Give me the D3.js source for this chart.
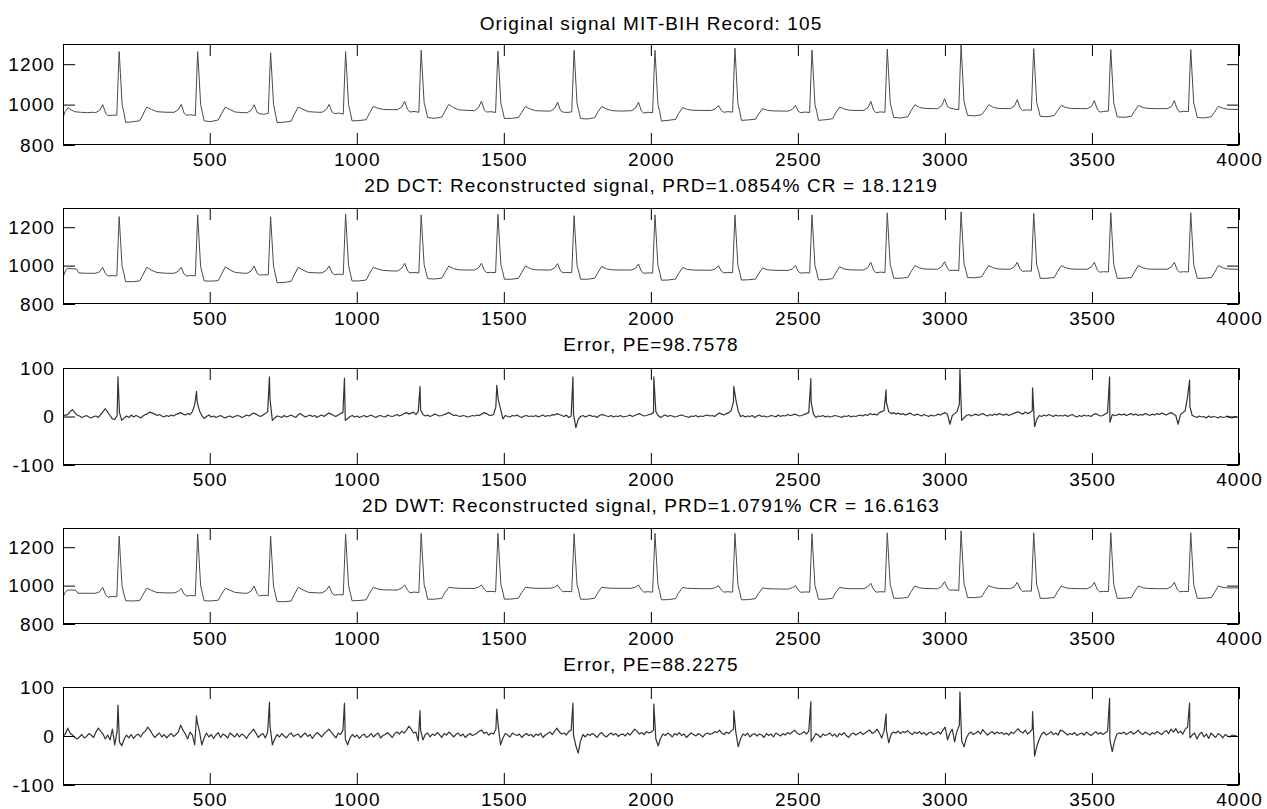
<!DOCTYPE html>
<html>
<head>
<meta charset="utf-8">
<script src="https://cdn.jsdelivr.net/npm/d3@7"></script>
<style>
  html, body { margin: 0; background: #fff; }
  svg { display: block; font-family: "Liberation Sans", Arial, sans-serif; }
</style>
</head>
<body>
<svg id="chart" width="1267" height="809"></svg>
<script>
// sample axis
const sampleRange = [1, 4000];
const xTicks = [500, 1000, 1500, 2000, 2500, 3000, 3500, 4000];
const ecgRange = [800, 1300];
const ecgTicks = [800, 1000, 1200];
const errRange = [-100, 100];
const errTicks = [-100, 0, 100];

const titles = [
  "Original signal MIT-BIH Record: 105",
  "2D DCT: Reconstructed signal, PRD=1.0854% CR = 18.1219",
  "Error, PE=98.7578",
  "2D DWT: Reconstructed signal, PRD=1.0791% CR = 16.6163",
  "Error, PE=88.2275",
];

// R-peak sample positions
const rPeaks = [192, 459, 707, 962, 1219, 1480, 1739, 2014, 2286, 2548, 2804, 3055, 3302, 3564, 3836];
// landmark offsets (samples from R) at which each beat was read
const beatOffsets = [-80, -66, -56, -46, -38, -24, -8, -3, 0, 4, 10, 16, 22, 45, 70, 80, 94, 110, 128, 160];

// original signal
const originalLeadIn = [[1, 935], [8, 965], [18, 985], [28, 975], [40, 965], [60, 962], [85, 960], [100, 962]];
const originalBeats = [
  [960, 972, 1000, 958, 945, 948, 947, 1150, 1262, 1160, 1000, 962, 912, 915, 920, 948, 988, 976, 965, 962],
  [962, 974, 1001, 957, 947, 950, 946, 1150, 1262, 1160, 1000, 960, 919, 916, 924, 952, 988, 975, 963, 960],
  [960, 972, 999, 962, 955, 952, 956, 1150, 1257, 1155, 1000, 958, 911, 913, 918, 950, 988, 977, 965, 962],
  [962, 975, 1001, 963, 955, 958, 953, 1150, 1262, 1160, 1000, 962, 919, 921, 925, 955, 991, 982, 976, 975],
  [975, 988, 1016, 975, 963, 966, 962, 1160, 1269, 1165, 1010, 975, 936, 932, 938, 965, 1001, 985, 974, 971],
  [970, 985, 1017, 972, 963, 965, 961, 1160, 1265, 1160, 1005, 970, 931, 932, 936, 960, 991, 978, 970, 968],
  [968, 982, 1012, 970, 963, 961, 964, 1160, 1269, 1165, 1005, 968, 931, 929, 935, 962, 991, 978, 970, 968],
  [970, 983, 1012, 968, 958, 962, 960, 1160, 1269, 1165, 1000, 965, 919, 922, 927, 955, 985, 976, 972, 971],
  [971, 980, 996, 970, 962, 965, 963, 1170, 1279, 1170, 1005, 968, 922, 924, 928, 952, 980, 972, 969, 968],
  [968, 978, 996, 966, 960, 963, 961, 1160, 1270, 1165, 1000, 966, 922, 925, 930, 958, 988, 978, 972, 971],
  [971, 985, 1016, 970, 960, 964, 962, 1165, 1274, 1170, 1010, 972, 936, 934, 940, 968, 999, 986, 981, 980],
  [980, 995, 1029, 990, 983, 978, 975, 1180, 1296, 1180, 1015, 980, 947, 944, 950, 970, 999, 986, 981, 980],
  [980, 992, 1024, 982, 971, 974, 972, 1170, 1277, 1170, 1010, 978, 942, 940, 946, 968, 996, 985, 981, 980],
  [980, 990, 1020, 978, 963, 966, 968, 1165, 1272, 1165, 1008, 975, 939, 937, 942, 966, 996, 985, 981, 980],
  [980, 990, 1020, 978, 963, 967, 965, 1165, 1272, 1165, 1008, 975, 936, 934, 940, 962, 991, 982, 977, 976],
];
const originalTail = [[4000, 975]];

// 2D DCT reconstruction
const dctLeadIn = [[1, 939], [10, 975], [16, 986], [30, 984], [47, 982], [55, 962], [80, 960], [100, 960]];
const dctBeats = [
  [960, 968, 991, 956, 946, 948, 946, 1140, 1255, 1150, 995, 960, 916, 916, 920, 950, 991, 976, 964, 960],
  [960, 970, 991, 955, 946, 948, 947, 1145, 1264, 1155, 995, 958, 920, 919, 922, 952, 994, 977, 964, 960],
  [960, 972, 998, 960, 951, 952, 952, 1140, 1255, 1150, 995, 956, 911, 912, 918, 950, 991, 977, 964, 962],
  [962, 975, 998, 962, 953, 955, 954, 1150, 1269, 1160, 1000, 960, 920, 920, 925, 955, 991, 982, 975, 972],
  [972, 986, 1012, 972, 962, 964, 962, 1150, 1264, 1160, 1005, 970, 932, 930, 935, 962, 998, 984, 978, 977],
  [977, 988, 1012, 974, 963, 965, 963, 1155, 1267, 1160, 1005, 970, 929, 929, 934, 962, 998, 984, 978, 977],
  [977, 988, 1010, 972, 963, 964, 963, 1150, 1260, 1155, 1000, 968, 929, 929, 934, 962, 996, 983, 978, 977],
  [977, 986, 1008, 970, 960, 962, 961, 1150, 1264, 1160, 1000, 966, 924, 925, 930, 958, 990, 980, 977, 976],
  [976, 984, 1000, 970, 962, 964, 963, 1150, 1264, 1160, 1000, 966, 925, 926, 930, 956, 988, 978, 976, 975],
  [975, 984, 1000, 968, 961, 963, 962, 1150, 1264, 1160, 1000, 966, 926, 927, 932, 960, 994, 982, 978, 977],
  [977, 990, 1017, 974, 963, 966, 964, 1160, 1275, 1165, 1005, 972, 934, 934, 938, 966, 1000, 988, 982, 981],
  [981, 994, 1020, 984, 975, 976, 974, 1165, 1280, 1170, 1010, 976, 938, 936, 942, 968, 1000, 988, 982, 981],
  [981, 993, 1017, 980, 970, 972, 971, 1160, 1272, 1165, 1005, 974, 934, 934, 938, 966, 1000, 988, 982, 981],
  [981, 993, 1017, 978, 966, 968, 967, 1160, 1275, 1165, 1005, 972, 934, 934, 938, 966, 1000, 988, 982, 981],
  [981, 993, 1017, 978, 966, 968, 967, 1160, 1275, 1165, 1005, 972, 934, 934, 938, 962, 1000, 988, 982, 981],
];
const dctTail = [[4000, 981]];

// 2D DWT reconstruction
const dwtLeadIn = [[1, 939], [8, 965], [18, 977], [35, 977], [45, 975], [52, 960], [80, 960], [100, 960]];
const dwtBeats = [
  [960, 968, 991, 952, 939, 944, 942, 1140, 1258, 1150, 995, 958, 921, 920, 922, 950, 986, 975, 964, 962],
  [962, 970, 986, 955, 946, 948, 947, 1150, 1269, 1160, 1000, 958, 921, 920, 924, 952, 986, 976, 964, 960],
  [960, 972, 998, 958, 946, 950, 948, 1140, 1258, 1150, 995, 956, 916, 916, 920, 952, 991, 978, 965, 962],
  [962, 975, 998, 960, 950, 953, 952, 1150, 1269, 1160, 1000, 960, 921, 922, 926, 956, 991, 982, 978, 977],
  [977, 988, 1003, 975, 963, 966, 964, 1155, 1272, 1165, 1005, 972, 929, 929, 934, 962, 991, 988, 986, 985],
  [985, 992, 1003, 980, 968, 970, 968, 1155, 1272, 1165, 1005, 972, 929, 930, 935, 962, 991, 988, 986, 986],
  [986, 992, 1003, 980, 968, 970, 968, 1155, 1270, 1160, 1005, 970, 929, 929, 934, 962, 991, 988, 986, 986],
  [986, 992, 1003, 978, 966, 968, 966, 1155, 1272, 1165, 1005, 968, 926, 927, 932, 960, 991, 986, 985, 984],
  [984, 990, 1000, 976, 966, 968, 966, 1155, 1272, 1165, 1005, 968, 926, 927, 932, 958, 988, 984, 983, 982],
  [982, 990, 1000, 975, 965, 967, 966, 1155, 1270, 1160, 1000, 968, 929, 929, 934, 962, 991, 986, 984, 984],
  [984, 994, 1012, 978, 966, 968, 967, 1160, 1275, 1165, 1005, 972, 934, 934, 938, 966, 998, 988, 985, 984],
  [984, 996, 1020, 986, 976, 977, 975, 1165, 1285, 1170, 1010, 976, 938, 937, 942, 968, 1000, 990, 985, 984],
  [984, 994, 1017, 982, 970, 972, 971, 1160, 1275, 1165, 1005, 974, 934, 934, 938, 966, 998, 988, 985, 984],
  [984, 994, 1017, 980, 968, 970, 969, 1160, 1275, 1165, 1005, 972, 934, 934, 938, 966, 998, 988, 985, 984],
  [984, 994, 1017, 980, 968, 970, 969, 1160, 1275, 1165, 1005, 972, 934, 934, 938, 962, 998, 990, 988, 988],
];
const dwtTail = [[4000, 990]];

// error traces: one reading every 8 samples (sample = 1 + 8 * i) ...
const errStep = 8;
const dctError = [
  2, 3, 4, 10, 14, 8, 3, 1, -2, 0, 2, -1, -3, 0, 1, -2, 4, 10, 16, 9, 2, -5, -6, 2, 8,
  -8, -3, 1, -2, 3, -1, 2, 0, -3, 1, 4, 6, 9, 7, 5, 2, 4, 1, -1, 2, 0, 3, 1, 4, 6,
  8, 5, 3, 6, 4, 10, 25, 30, 12, 2, -4, 0, 3, -1, 1, -2, 0, 2, -1, -3, 0, 1, -2, 0, 2,
  1, -2, 0, 3, 1, 4, 7, 5, 2, 0, 3, 6, 10, 35, -8, -3, 1, 0, -2, 2, -1, 1, 3, 0, -2,
  4, 6, 2, -1, 1, 3, 0, 2, -2, 1, 3, 0, 4, 7, 5, 2, 0, 3, 6, 8, -8, -4, 0, 2, -1,
  1, -2, 0, 2, -1, 1, 3, 0, -2, 1, 2, 0, -1, 3, 1, 0, 2, 4, 1, 3, 6, 8, 5, 7, 9,
  4, 10, 14, 4, 1, 3, 0, 2, 5, 3, 1, 2, 4, 6, 8, 5, 2, 3, 1, 0, 2, 1, -1, 0, 2,
  1, 3, 2, 5, 8, 6, 3, 2, 4, 20, 35, 15, -5, 2, 0, -1, 2, 1, 3, 0, -2, 1, 2, 0, 1,
  0, 2, -1, 1, 3, 0, 2, 1, 4, 3, 6, 4, 2, 0, 3, -2, 1, 5, -23, -6, 0, 2, -1, 1, 3,
  0, 1, -2, 2, 4, 3, 1, 0, 2, -1, 1, 0, 2, -1, 0, 1, 3, 0, 2, 4, 6, 3, 1, 2, 4,
  5, 8, 10, 2, -2, 1, 3, 0, 2, 1, -1, 0, 2, 3, 1, 0, -2, 1, 0, 2, -1, 1, 0, 2, 3,
  1, 2, 0, 4, 7, 5, 3, 6, 8, 12, 30, 35, 12, 0, 2, -1, 1, 0, 2, -2, 1, 3, 0, 1, -1,
  0, 2, 1, -1, 3, 0, 2, 1, 4, 2, 3, 5, 3, 1, 2, 4, 6, 8, 30, 5, -2, 1, 0, 2, -1,
  1, -1, 0, 2, 1, 0, -2, 1, 0, 2, -1, 1, 0, 2, 3, 1, 4, 2, 6, 4, 5, 3, 8, 10, 12,
  29, 10, 6, 8, 5, 7, 4, 6, 3, 5, 7, 4, 2, 5, 3, 1, 4, 2, 0, 3, 1, 2, 5, 3, 6,
  8, 4, -16, 2, 6, 10, 25, -8, -3, 2, 4, 1, 3, 5, 2, 4, 6, 3, 1, 4, 2, 5, 3, 6, 4,
  3, 5, 2, 4, 6, 8, 10, 7, 5, 9, 6, 8, 12, -21, -5, 2, 0, 3, 1, 4, 2, 0, 3, 1, 2,
  1, 3, 0, 2, 4, 1, -1, 2, 0, 3, 1, 2, 0, 4, 6, 3, 1, 2, 5, 8, -12, 4, 2, 3, 5,
  3, 5, 2, 4, 6, 3, 5, 2, 4, 3, 6, 4, 2, 5, 3, 6, 4, 7, 5, 3, 6, 8, 5, 2, -16,
  4, 8, 12, 40, 20, 2, 0, -2, 1, -1, 0, -3, 1, -2, 0, -1, -3, 0, -2, -1, 1, -2, -3, 0, -2,
];
// ... plus the spike top just ahead of each R peak
const spikeLead = 4;
const dctSpikes = [82, 52, 82, 79, 62, 64, 82, 82, 62, 78, 55, 98, 59, 82, 75];

const dwtError = [
  0, 4, 16, 6, 2, -3, -6, -2, 3, -4, -1, 5, 2, -3, 8, 16, 10, 4, -6, 2, -8, 14, -18, 10, -12,
  -20, -6, 2, -4, 3, -5, 1, 4, -2, 6, 10, 18, 12, 4, -3, 2, 6, -2, 3, -4, 1, 5, -1, 3, 8,
  22, 12, 4, -6, 8, 2, -18, 30, 10, -18, -4, 6, -2, 3, -5, 2, 7, -3, 4, 1, -4, 6, 2, -2, 5,
  -2, 4, 1, -5, 3, 8, 14, 6, -3, 2, 5, -4, 8, 20, -18, -6, 3, -2, 5, 0, -4, 3, 6, -1, 2,
  4, -3, 2, 6, -1, 3, -5, 2, 7, 3, -2, 5, 9, 14, 8, 2, -4, 6, 3, 12, -6, -18, -4, 3, -2,
  2, -5, 1, 4, -3, 0, 5, -2, 3, 6, -4, 1, 3, 7, 2, -3, 5, 8, 4, 10, 6, 12, 20, 14, 6,
  8, -10, 12, -8, 3, 6, -2, 4, 1, 7, 3, -3, 5, 2, 8, 4, -2, 3, 6, 0, 4, -3, 2, 5, 1,
  3, 6, 10, 12, 5, 8, 2, 6, 4, 14, 20, -18, -4, 5, 2, -2, 6, 3, 1, 4, -3, 2, 5, 1, 3,
  -2, 4, 1, 6, -3, 2, 5, 8, 3, 10, 16, 8, 4, 6, 2, 9, 12, 2, -20, -35, -10, 3, -2, 4, 1,
  5, 2, -3, 4, 7, 1, -2, 3, 6, 2, 5, -1, 3, 4, 0, 6, 2, 8, 14, 10, 4, 7, 3, 9, 6,
  8, 12, -6, -20, -5, 4, 1, 6, 3, -2, 5, 2, 7, 1, 4, -3, 2, 6, 3, 0, 5, 2, -2, 4, 6,
  3, 5, 9, 7, 12, 6, 3, 8, 5, 10, 14, 8, -22, -6, 4, 1, 6, -2, 3, 5, 0, 4, 2, -3, 5,
  1, 4, -2, 6, 3, 0, 5, 2, 7, 4, 8, 12, 6, 3, 5, 9, 4, 10, -11, -4, 5, 2, -3, 4, 1,
  3, 6, 0, 4, -2, 5, 2, 7, 1, -3, 4, 6, 2, 5, 8, 3, 6, 10, 12, 5, 8, 14, 6, -4, 10,
  12, -14, 4, 8, 6, 10, 5, 9, 7, 11, 6, 3, 8, 5, 9, 4, 7, 2, 6, 8, 3, 5, 9, 4, 12,
  18, -8, 6, 14, -12, 10, 22, -10, -22, -4, 5, 8, 3, 6, 10, 4, 13, 7, 2, 6, 9, 4, 8, 5, 7,
  3, 6, 2, 8, 5, 10, 15, 9, 6, 12, 4, 8, 14, -41, -20, -6, 4, 8, 2, 5, 9, 3, 6, 2, 12,
  10, 6, 2, 5, 3, 7, 1, 4, 6, 2, 8, 4, 1, 5, 9, 4, 7, 3, 6, 10, -8, -32, -10, 4, 6,
  5, 8, 3, 6, 9, 4, 7, 12, 6, 3, 8, 5, 2, 7, 4, 9, 6, 3, 8, 11, 5, 14, 8, 15, 6,
  10, 4, 14, 18, -4, 2, 6, -6, 3, 8, -2, 4, -5, 6, 1, -3, 5, 2, -4, 3, 0, -2, 2, 1, 0,
];
const dwtSpikes = [63, 41, 69, 67, 52, 55, 67, 65, 52, 70, 45, 90, 50, 77, 67];

const buildEcg = (leadIn, beats, tail) =>
  leadIn
    .concat(rPeaks.flatMap((r, k) => beatOffsets.map((o, j) => [r + o, beats[k][j]])))
    .concat(tail);

const buildError = (grid, spikes) =>
  grid
    .map((v, i) => [1 + i * errStep, v])
    .concat(rPeaks.map((r, k) => [r - spikeLead, spikes[k]]))
    .sort((a, b) => a[0] - b[0]);

const panels = [
  { top: 44, bottom: 145, titleY: 30, domain: ecgRange, ticks: ecgTicks, points: buildEcg(originalLeadIn, originalBeats, originalTail), stroke: "#4a4a4a", width: 1 },
  { top: 208, bottom: 304, titleY: 192, domain: ecgRange, ticks: ecgTicks, points: buildEcg(dctLeadIn, dctBeats, dctTail), stroke: "#4a4a4a", width: 1 },
  { top: 368, bottom: 465, titleY: 351, domain: errRange, ticks: errTicks, points: buildError(dctError, dctSpikes), stroke: "#333", width: 1.2 },
  { top: 528, bottom: 624, titleY: 512, domain: ecgRange, ticks: ecgTicks, points: buildEcg(dwtLeadIn, dwtBeats, dwtTail), stroke: "#4a4a4a", width: 1 },
  { top: 687, bottom: 785, titleY: 671, domain: errRange, ticks: errTicks, points: buildError(dwtError, dwtSpikes), stroke: "#333", width: 1.2 },
];

const left = 63;
const right = 1239;
const tickLen = 12;
const fontSize = 19;
const spacing = 1.1;
const fmt = (d) => String(d);

const svg = d3.select("#chart");
const x = d3.scaleLinear().domain(sampleRange).range([left, right]);

panels.forEach((p, idx) => {
  const y = d3.scaleLinear().domain(p.domain).range([p.bottom, p.top]);
  const g = svg.append("g");

  g.append("clipPath")
    .attr("id", `clip-${idx}`)
    .append("rect")
    .attr("x", left)
    .attr("y", p.top)
    .attr("width", right - left)
    .attr("height", p.bottom - p.top);

  const line = d3
    .line()
    .x((d) => x(d[0]))
    .y((d) => y(d[1]));

  g.append("path")
    .datum(p.points)
    .attr("clip-path", `url(#clip-${idx})`)
    .attr("fill", "none")
    .attr("stroke", p.stroke)
    .attr("stroke-width", p.width)
    .attr("stroke-linejoin", "round")
    .attr("d", line);

  const styleAxis = (sel) => {
    sel.select(".domain").remove();
    sel.selectAll("line").attr("stroke", "#000");
    sel
      .selectAll("text")
      .attr("fill", "#000")
      .attr("font-size", fontSize)
      .attr("letter-spacing", spacing)
      .attr("font-family", null);
  };

  g.append("g")
    .attr("transform", `translate(0,${p.bottom})`)
    .call(d3.axisBottom(x).tickValues(xTicks).tickSizeInner(-tickLen).tickSizeOuter(0).tickPadding(7.5).tickFormat(fmt))
    .call(styleAxis);
  g.append("g")
    .attr("transform", `translate(0,${p.top})`)
    .call(d3.axisTop(x).tickValues(xTicks).tickSizeInner(-tickLen).tickSizeOuter(0).tickFormat(""))
    .call(styleAxis);
  g.append("g")
    .attr("transform", `translate(${left},0)`)
    .call(d3.axisLeft(y).tickValues(p.ticks).tickSizeInner(-tickLen).tickSizeOuter(0).tickPadding(8).tickFormat(fmt))
    .call(styleAxis);
  g.append("g")
    .attr("transform", `translate(${right},0)`)
    .call(d3.axisRight(y).tickValues(p.ticks).tickSizeInner(-tickLen).tickSizeOuter(0).tickFormat(""))
    .call(styleAxis);

  g.append("rect")
    .attr("x", left + 0.5)
    .attr("y", p.top + 0.5)
    .attr("width", right - left - 1)
    .attr("height", p.bottom - p.top - 1)
    .attr("fill", "none")
    .attr("stroke", "#000");

  g.append("text")
    .attr("x", (left + right) / 2)
    .attr("y", p.titleY)
    .attr("text-anchor", "middle")
    .attr("font-size", fontSize)
    .attr("letter-spacing", spacing)
    .attr("fill", "#000")
    .text(titles[idx]);
});
</script>
</body>
</html>
